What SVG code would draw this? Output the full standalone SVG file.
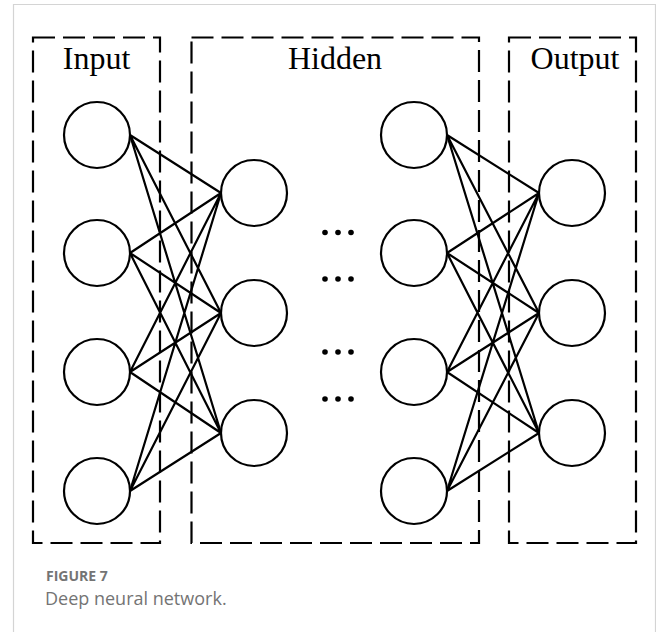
<svg xmlns="http://www.w3.org/2000/svg" width="656" height="632" viewBox="0 0 656 632">
<style>
.frame{fill:none;stroke:#d4d4d4;stroke-width:1.2}
.box{fill:none;stroke:#000;stroke-width:2.2;stroke-dasharray:22 8}
.node{fill:#fff;stroke:#000;stroke-width:2.2}
.edge{stroke:#000;stroke-width:2.2;fill:none}
.lbl{font-family:"Liberation Serif","Times New Roman",serif;font-size:32px;fill:#000;text-anchor:middle}
.dot{fill:#000}
.cap1{font-family:"Open Sans","Noto Sans",sans-serif;font-size:14px;font-weight:bold;fill:#747474}
.cap2{font-family:"Open Sans","Noto Sans",sans-serif;font-size:18px;fill:#747474}
</style>
<rect width="656" height="632" fill="#fff"/>
<path class="frame" d="M13.5,632 V4.5 H655.5 V632"/>
<g id="boxes">
<rect id="box-input" class="box" x="33" y="37.5" width="127" height="505.5"/>
<rect id="box-hidden" class="box" x="191.5" y="37.5" width="287.5" height="505.5"/>
<rect id="box-output" class="box" x="509" y="37.5" width="127" height="505.5"/>
</g>
<g id="labels">
<text class="lbl" x="96.5" y="69">Input</text>
<text class="lbl" x="335" y="69">Hidden</text>
<text class="lbl" x="575" y="69">Output</text>
</g>
<g id="connectors">
<path class="edge" d="M130,135 L221,193 M130,135 L221,313 M130,135 L221,433
M130,253 L221,193 M130,253 L221,313 M130,253 L221,433
M130,372 L221,193 M130,372 L221,313 M130,372 L221,433
M130,491 L221,193 M130,491 L221,313 M130,491 L221,433"/>
<path class="edge" d="M447,135 L539,193 M447,135 L539,313 M447,135 L539,433
M447,253 L539,193 M447,253 L539,313 M447,253 L539,433
M447,372 L539,193 M447,372 L539,313 M447,372 L539,433
M447,491 L539,193 M447,491 L539,313 M447,491 L539,433"/>
</g>
<g id="input-1"><circle class="node" cx="97" cy="135" r="33"/></g>
<g id="input-2"><circle class="node" cx="97" cy="253" r="33"/></g>
<g id="input-3"><circle class="node" cx="97" cy="372" r="33"/></g>
<g id="input-4"><circle class="node" cx="97" cy="491" r="33"/></g>
<g id="hidden1-1"><circle class="node" cx="254" cy="193" r="33"/></g>
<g id="hidden1-2"><circle class="node" cx="254" cy="313" r="33"/></g>
<g id="hidden1-3"><circle class="node" cx="254" cy="433" r="33"/></g>
<g id="hidden2-1"><circle class="node" cx="414" cy="135" r="33"/></g>
<g id="hidden2-2"><circle class="node" cx="414" cy="253" r="33"/></g>
<g id="hidden2-3"><circle class="node" cx="414" cy="372" r="33"/></g>
<g id="hidden2-4"><circle class="node" cx="414" cy="491" r="33"/></g>
<g id="output-1"><circle class="node" cx="572" cy="193" r="33"/></g>
<g id="output-2"><circle class="node" cx="572" cy="313" r="33"/></g>
<g id="output-3"><circle class="node" cx="572" cy="433" r="33"/></g>
<g id="ellipsis">
<circle class="dot" cx="325" cy="232.5" r="2.8"/><circle class="dot" cx="338" cy="232.5" r="2.8"/><circle class="dot" cx="351" cy="232.5" r="2.8"/>
<circle class="dot" cx="325" cy="279" r="2.8"/><circle class="dot" cx="338" cy="279" r="2.8"/><circle class="dot" cx="351" cy="279" r="2.8"/>
<circle class="dot" cx="325" cy="352" r="2.8"/><circle class="dot" cx="338" cy="352" r="2.8"/><circle class="dot" cx="351" cy="352" r="2.8"/>
<circle class="dot" cx="325" cy="399" r="2.8"/><circle class="dot" cx="338" cy="399" r="2.8"/><circle class="dot" cx="351" cy="399" r="2.8"/>
</g>
<g id="caption">
<text class="cap1" x="46" y="581">FIGURE 7</text>
<text class="cap2" x="45" y="605">Deep neural network.</text>
</g>
</svg>
